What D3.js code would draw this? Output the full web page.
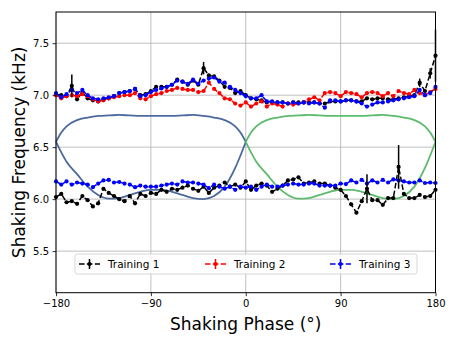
<!DOCTYPE html>
<html>
<head>
<meta charset="utf-8">
<script src="https://d3js.org/d3.v7.min.js"></script>
<style>
body { margin: 0; background: #fff; }
text { font-family: "DejaVu Sans", sans-serif; }
.grid line { stroke: #b0b0b0; stroke-width: 0.8; }
.tick text { font-size: 10px; fill: #000; }
</style>
</head>
<body>
<svg id="chart"></svg>
<script>
// phase grid (deg)
var phases = [-180,-175,-170,-165,-160,-155,-150,-145,-140,-135,-130,-125,-120,-115,-110,-105,-100,-95,-90,-85,-80,-75,-70,-65,-60,-55,-50,-45,-40,-35,-30,-25,-20,-15,-10,-5,
  0,5,10,15,20,25,30,35,40,45,50,55,60,65,70,75,80,85,90,95,100,105,110,115,120,125,130,135,140,145,150,155,160,165,170,175,180];

// Training 1 (black), upper and lower branch
var train1Upper = [7.01,7.00,6.99,7.09,6.96,7.03,6.97,6.95,6.94,6.96,6.97,6.99,7.02,7.03,7.04,7.06,7.00,7.01,7.04,7.08,7.08,7.08,7.10,7.15,7.13,7.10,7.14,7.10,7.26,7.19,7.18,7.14,7.08,7.07,7.02,7.04,
  7.00,6.97,6.96,6.95,6.93,6.93,6.93,6.93,6.92,6.93,6.93,6.93,6.93,6.93,6.92,6.92,6.94,6.94,6.94,6.95,6.95,6.94,6.94,6.97,6.96,6.97,6.97,6.96,6.96,6.97,6.98,6.99,7.00,7.12,7.04,7.21,7.38];
var train1Lower = [6.02,6.05,5.97,5.98,5.955,6.03,5.99,5.93,5.96,6.10,6.06,6.03,6.00,5.98,6.03,5.96,6.05,6.03,6.06,6.05,6.09,6.07,6.10,6.09,6.11,6.13,6.10,6.08,6.12,6.06,6.11,6.13,6.16,6.12,6.14,6.11,
  6.17,6.09,6.13,6.15,6.13,6.07,6.10,6.13,6.18,6.19,6.21,6.15,6.16,6.17,6.15,6.15,6.13,6.11,6.09,6.03,5.95,5.87,5.98,6.10,5.99,5.99,5.945,6.01,6.01,6.31,6.05,6.01,6.01,6.04,6.02,6.03,6.09];
// error bars of Training 1: [phase, value, error]
var train1Errors = [[-165,7.09,0.11],[-40,7.26,0.06],[165,7.12,0.04],[175,7.21,0.05],[180,7.38,0.25],[115,6.10,0.14],[145,6.31,0.21]];

// Training 2 (red)
var train2Upper = [7.00,6.97,6.99,7.00,6.99,7.01,6.99,6.96,6.94,6.95,6.97,6.98,6.99,7.00,7.00,7.02,6.97,6.96,6.99,7.01,7.02,7.04,7.05,7.07,7.06,7.05,7.05,7.03,7.04,7.12,7.06,7.02,6.97,6.96,6.92,6.90,
  6.93,6.89,6.92,6.94,6.89,6.92,6.91,6.89,6.92,6.91,6.92,6.93,6.96,6.98,6.95,7.02,7.03,7.02,6.99,7.03,7.02,7.01,6.98,7.02,7.03,7.02,6.99,7.02,6.99,7.04,7.02,7.01,7.05,7.02,7.00,7.03,7.06];

// Training 3 (blue)
var train3Upper = [7.02,6.98,7.01,7.05,7.02,7.05,7.00,6.97,6.96,6.97,6.98,6.99,7.02,7.03,7.04,7.06,6.99,7.00,7.03,7.05,7.065,7.08,7.10,7.14,7.13,7.11,7.15,7.11,7.14,7.16,7.17,7.13,7.12,7.08,7.05,7.02,
  6.99,6.97,6.97,7.00,6.94,6.94,6.93,6.93,6.92,6.93,6.92,6.93,6.92,6.93,6.92,6.88,6.95,6.95,6.94,6.95,6.95,6.94,6.92,6.89,6.91,6.93,6.93,6.94,6.95,6.96,6.97,6.98,6.99,7.05,7.00,7.02,7.08];
var train3Lower = [6.17,6.14,6.17,6.14,6.16,6.15,6.14,6.115,6.15,6.18,6.185,6.16,6.165,6.15,6.14,6.115,6.13,6.12,6.12,6.12,6.13,6.14,6.15,6.14,6.17,6.16,6.16,6.15,6.14,6.105,6.14,6.12,6.10,6.12,6.09,6.12,
  6.11,6.12,6.09,6.12,6.14,6.12,6.12,6.13,6.14,6.15,6.14,6.14,6.15,6.15,6.13,6.13,6.13,6.13,6.15,6.145,6.18,6.16,6.185,6.15,6.18,6.16,6.185,6.16,6.19,6.18,6.17,6.16,6.16,6.18,6.155,6.16,6.155];

// closed band curves (offset from start phase, upper and lower branch)
var bandOffsets = [0,5,10,20,30,40,50,60,70,80,90,100,110,120,130,140,150,160,170,175,180];
var bandUpper   = [6.55,6.64,6.70,6.76,6.785,6.80,6.805,6.81,6.805,6.80,6.80,6.80,6.80,6.805,6.81,6.80,6.785,6.76,6.70,6.64,6.55];
var bandLower   = [6.55,6.45,6.36,6.24,6.12,6.04,6.005,6.01,6.04,6.07,6.09,6.09,6.07,6.04,6.01,6.00,6.03,6.12,6.30,6.42,6.55];
var bandStarts  = [-180, 0];
var bandColors  = ["#4c6a9e", "#5cbb6c"];

var xTicks = [-180,-90,0,90,180];
var yTicks = [5.5,6.0,6.5,7.0,7.5];

var W = 457, H = 343;
var margin = {left: 56, right: 21.5, top: 12, bottom: 50.3};
var width = W - margin.left - margin.right, height = H - margin.top - margin.bottom;

var x = d3.scaleLinear().domain([-180,180]).range([0,width]);
var y = d3.scaleLinear().domain([5.1,7.8]).range([height,0]);

var svg = d3.select("#chart").attr("width",W).attr("height",H);
var g = svg.append("g").attr("transform","translate(" + margin.left + "," + margin.top + ")");

// grid
g.append("g").attr("class","grid")
  .selectAll("line").data(xTicks).enter().append("line")
  .attr("x1",function(d){ return x(d); }).attr("x2",function(d){ return x(d); })
  .attr("y1",0).attr("y2",height);
g.append("g").attr("class","grid")
  .selectAll("line").data(yTicks).enter().append("line")
  .attr("y1",function(d){ return y(d); }).attr("y2",function(d){ return y(d); })
  .attr("x1",0).attr("x2",width);

// bands
var bandLine = d3.line()
  .x(function(d){ return x(d[0]); })
  .y(function(d){ return y(d[1]); })
  .curve(d3.curveMonotoneX);
bandStarts.forEach(function(s, k) {
  [bandUpper, bandLower].forEach(function(vals) {
    var pts = bandOffsets.map(function(o, i){ return [s + o, vals[i]]; });
    g.append("path").attr("d", bandLine(pts))
      .attr("fill","none").attr("stroke",bandColors[k]).attr("stroke-width",1.8);
  });
});

// series
var series = [
  {name:"Training 1", color:"#000000", parts:[train1Upper, train1Lower]},
  {name:"Training 2", color:"#ff0000", parts:[train2Upper]},
  {name:"Training 3", color:"#0000ff", parts:[train3Upper, train3Lower]}
];
var line = d3.line()
  .x(function(d){ return x(d[0]); })
  .y(function(d){ return y(d[1]); });

series.forEach(function(s) {
  s.parts.forEach(function(vals) {
    var pts = phases.map(function(p, i){ return [p, vals[i]]; });
    g.append("path").attr("d", line(pts))
      .attr("fill","none").attr("stroke",s.color).attr("stroke-width",1.5)
      .attr("stroke-dasharray","5.5,2.4");
    g.append("g").selectAll("circle").data(pts).enter().append("circle")
      .attr("cx",function(d){ return x(d[0]); })
      .attr("cy",function(d){ return y(d[1]); })
      .attr("r",2.1).attr("fill",s.color);
  });
});

// error bars of training 1
g.append("g").selectAll("line").data(train1Errors).enter().append("line")
  .attr("x1",function(d){ return x(d[0]); }).attr("x2",function(d){ return x(d[0]); })
  .attr("y1",function(d){ return y(d[1]-d[2]); }).attr("y2",function(d){ return y(d[1]+d[2]); })
  .attr("stroke","#000").attr("stroke-width",1.5);

// frame
g.append("rect").attr("width",width).attr("height",height)
  .attr("fill","none").attr("stroke","#000").attr("stroke-width",1);

// axes
var xAxis = g.append("g").attr("transform","translate(0," + height + ")")
  .call(d3.axisBottom(x).tickValues(xTicks).tickSize(3.5).tickPadding(3.5));
var yAxis = g.append("g")
  .call(d3.axisLeft(y).tickValues(yTicks).tickFormat(d3.format(".1f")).tickSize(3.5).tickPadding(3.5));
[xAxis, yAxis].forEach(function(a) {
  a.select(".domain").remove();
  a.selectAll(".tick line").attr("stroke","#000").attr("stroke-width",0.8);
});

svg.append("text")
  .attr("x", margin.left + width/2).attr("y", 330)
  .attr("text-anchor","middle").style("font-size","17px")
  .text("Shaking Phase (°)");
svg.append("text")
  .attr("transform","translate(24.5," + (margin.top + height/2) + ") rotate(-90)")
  .attr("text-anchor","middle").style("font-size","17px")
  .text("Shaking Frequency (kHz)");

// legend
var leg = g.append("g").attr("transform","translate(19,242)");
leg.append("rect").attr("width",342).attr("height",20).attr("rx",2.5)
  .attr("fill","#fff").attr("fill-opacity",0.85).attr("stroke","#cccccc").attr("stroke-width",0.8);
var legX = [4, 130, 255];
series.forEach(function(s, i) {
  var e = leg.append("g").attr("transform","translate(" + legX[i] + ",10)");
  e.append("line").attr("x1",0).attr("x2",21).attr("y1",0).attr("y2",0)
    .attr("stroke",s.color).attr("stroke-width",1.5).attr("stroke-dasharray","5.5,2.4");
  e.append("line").attr("x1",10.5).attr("x2",10.5).attr("y1",-5).attr("y2",5)
    .attr("stroke",s.color).attr("stroke-width",1.5);
  e.append("circle").attr("cx",10.5).attr("cy",0).attr("r",2.1).attr("fill",s.color);
  e.append("text").attr("x",29).attr("y",3.8).style("font-size","10.5px").text(s.name);
});
</script>
</body>
</html>
